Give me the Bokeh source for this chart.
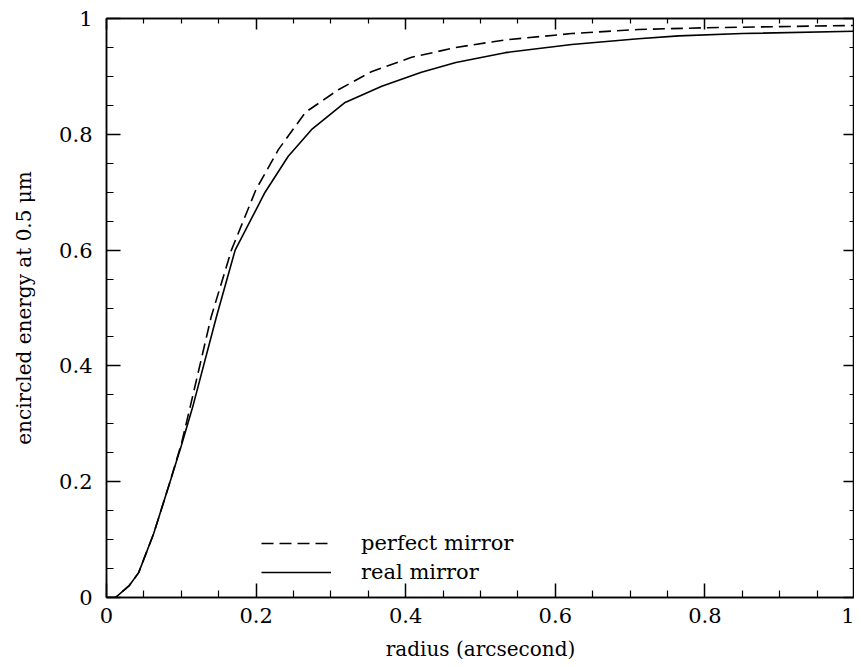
from bokeh.plotting import figure
from bokeh.models import Range1d, LinearAxis, FixedTicker, Legend, LegendItem
from bokeh.embed import file_html
from bokeh.resources import INLINE

# ---- data -------------------------------------------------------------
tick_values = [0, 0.2, 0.4, 0.6, 0.8, 1.0]
tick_labels = ["0", "0.2", "0.4", "0.6", "0.8", "1"]
minor_values = [0.05, 0.1, 0.15, 0.25, 0.3, 0.35, 0.45, 0.5, 0.55,
                0.65, 0.7, 0.75, 0.85, 0.9, 0.95]

perfect_r = [0.0, 0.012, 0.03, 0.043, 0.063, 0.085, 0.1, 0.112, 0.14, 0.167,
             0.2, 0.23, 0.266, 0.31, 0.354, 0.408, 0.467, 0.533, 0.622, 0.711,
             0.8, 0.9, 1.0]
perfect_ee = [0.0, 0.0, 0.02, 0.043, 0.11, 0.2, 0.265, 0.33, 0.485, 0.60,
              0.705, 0.774, 0.838, 0.877, 0.908, 0.933, 0.95, 0.963, 0.974, 0.981,
              0.984, 0.986, 0.988]

real_r = [0.0, 0.012, 0.03, 0.043, 0.063, 0.085, 0.1, 0.115, 0.147, 0.172,
          0.212, 0.243, 0.274, 0.319, 0.368, 0.421, 0.467, 0.533, 0.622, 0.711,
          0.765, 0.85, 1.0]
real_ee = [0.0, 0.0, 0.02, 0.043, 0.11, 0.2, 0.262, 0.328, 0.485, 0.60,
           0.70, 0.762, 0.808, 0.855, 0.883, 0.907, 0.924, 0.941, 0.955, 0.965,
           0.97, 0.974, 0.978]

x_label = "radius (arcsecond)"
y_label = "encircled energy at 0.5 μm"
legend_labels = ["perfect mirror", "real mirror"]

FONT = "DejaVu Serif"
overrides = {v: l for v, l in zip(tick_values, tick_labels)}
blank = {v: "" for v in tick_values}

p = figure(frame_width=748, frame_height=579, output_backend="svg",
           toolbar_location=None, x_range=Range1d(0, 1), y_range=Range1d(0, 1),
           min_border_left=106, min_border_right=0, min_border_top=18,
           min_border_bottom=10, background_fill_color="white",
           border_fill_color="white")
p.xgrid.visible = False
p.ygrid.visible = False
p.outline_line_color = "black"
p.outline_line_width = 1.5

def style_axis(ax, labels=True, major_len=14, minor_len=7):
    ax.ticker = FixedTicker(ticks=tick_values, minor_ticks=minor_values)
    ax.major_tick_in = major_len
    ax.major_tick_out = 0
    ax.minor_tick_in = minor_len
    ax.minor_tick_out = 0
    ax.axis_line_color = "black"
    ax.axis_line_width = 1.5
    ax.major_tick_line_color = "black"
    ax.major_tick_line_width = 1.5
    ax.minor_tick_line_color = "black"
    ax.minor_tick_line_width = 1.2
    if labels:
        ax.major_label_overrides = overrides
        ax.major_label_text_font = FONT
        ax.major_label_text_font_size = "21px"
        ax.major_label_text_color = "black"
        ax.axis_label_text_font = FONT
        ax.axis_label_text_font_size = "20px"
        ax.axis_label_text_font_style = "normal"
        ax.axis_label_text_color = "black"
    else:
        ax.major_label_overrides = blank
        ax.major_label_standoff = 0

xa = p.xaxis[0]
ya = p.yaxis[0]
style_axis(xa)
style_axis(ya)
xa.axis_label = x_label
ya.axis_label = y_label
xa.major_label_standoff = 10
ya.major_label_standoff = 14
xa.axis_label_standoff = 11
ya.axis_label_standoff = 20

top = LinearAxis()
right = LinearAxis()
style_axis(top, labels=False, major_len=11, minor_len=5)
style_axis(right, labels=False, major_len=11, minor_len=5)
p.add_layout(top, "above")
p.add_layout(right, "right")

r1 = p.line(perfect_r, perfect_ee, line_color="black", line_width=1.6,
            line_dash="12 6")
r2 = p.line(real_r, real_ee, line_color="black", line_width=1.6)

legend = Legend(items=[LegendItem(label=legend_labels[0], renderers=[r1]),
                       LegendItem(label=legend_labels[1], renderers=[r2])],
                location=(155, 13), orientation="vertical",
                glyph_width=70, glyph_height=20, label_height=20,
                label_standoff=30, spacing=5, padding=0, margin=0,
                border_line_color=None, background_fill_alpha=0,
                label_text_font=FONT, label_text_font_size="21px",
                label_text_color="black")
p.add_layout(legend, "center")

open("out.html", "w").write(file_html(p, INLINE))
